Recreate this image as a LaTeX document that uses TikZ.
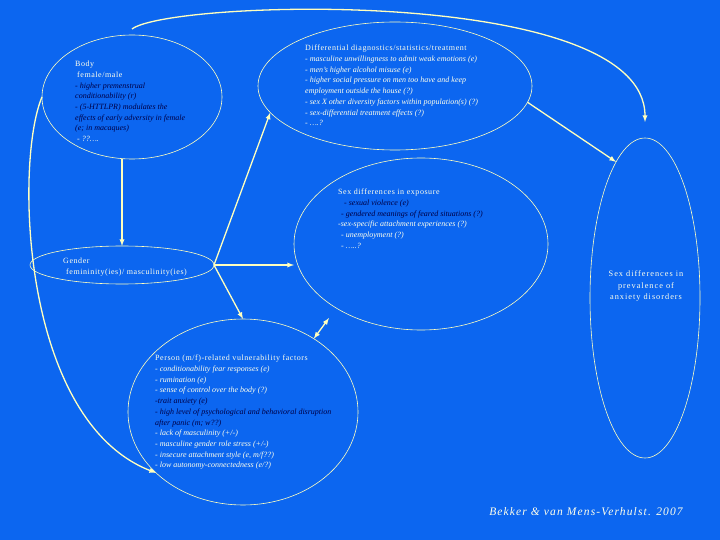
\documentclass[tikz,border=0pt]{standalone}
\usepackage{fontspec}
\setmainfont{Liberation Serif}
\newfontfamily\hdfont[LetterSpace=7]{Liberation Serif}
\newfontfamily\creditfont[LetterSpace=10]{Liberation Serif}
\usetikzlibrary{shapes.geometric}

\definecolor{bgblue}{RGB}{12,102,240}
\definecolor{lineyel}{RGB}{255,255,190}
\definecolor{txtlight}{RGB}{255,255,235}
\definecolor{txtdark}{RGB}{0,0,70}

\newcommand{\dk}[1]{{\color{txtdark}\itshape #1}}
\newcommand{\lt}[1]{{\itshape #1}}
\newcommand{\hd}[1]{{\hdfont #1}}

\begin{document}
\begin{tikzpicture}[x=1pt, y=-1pt, >=latex]
\tikzstyle{bubble} = [draw=lineyel, ellipse, inner sep=0pt, outer sep=0pt, line width=0.6pt]
\tikzstyle{conn} = [->, draw=lineyel, line width=1.3pt]
\tikzstyle{txt} = [anchor=north west, align=left, inner sep=0pt, text=txtlight, font=\fontsize{8}{10.7}\selectfont]
\fill[bgblue] (0,0) rectangle (720,540);
\useasboundingbox (0,0) rectangle (720,540);

% ellipses
\node[bubble, minimum width=180pt, minimum height=124pt] (body) at (132,97) {};
\node[bubble, minimum width=274pt, minimum height=128pt] (diff) at (395,86) {};
\node[bubble, minimum width=254pt, minimum height=172pt] (expo) at (421,244) {};
\node[bubble, minimum width=184pt, minimum height=38pt] (gender) at (122,265) {};
\node[bubble, minimum width=110pt, minimum height=320pt] (right) at (645,298) {};
\node[bubble, minimum width=230pt, minimum height=186pt] (person) at (243,412) {};

% texts
\node[txt] (bodytxt) at (75,61) {\hd{Body}\\
\hspace{2pt}\hd{female/male}\\
\dk{- higher premenstrual}\\
\dk{conditionability (r)}\\
\dk{- (5-HTTLPR) modulates the}\\
\dk{effects of early adversity in female}\\
\dk{(e; in macaques)}\\
\hspace{2pt}\lt{- ??\dots.}};
\node[txt] (difftxt) at (305,45) {\hd{Differential diagnostics/statistics/treatment}\\
\lt{- masculine unwillingness to admit weak emotions (e)}\\
\lt{- men's higher alcohol misuse (e)}\\
\lt{- higher social pressure on men too have and keep}\\
\lt{employment outside the house (?)}\\
\lt{- sex X other diversity factors within population(s) (?)}\\
\lt{- sex-differential treatment effects (?)}\\
\lt{- \dots.?}};
\node[txt] (expotxt) at (338,189) {\hd{Sex differences in exposure}\\
\hspace{6pt}\dk{- sexual violence (e)}\\
\hspace{3pt}\dk{- gendered meanings of feared situations (?)}\\
\lt{-sex-specific attachment experiences (?)}\\
\hspace{3pt}\lt{- unemployment (?)}\\
\hspace{3pt}\lt{- \dots..?}};
\node[txt] (gendertxt) at (63,258) {\hd{Gender}\\
\hspace{3pt}\hd{femininity(ies)/ masculinity(ies)}};
\node[txt, anchor=center, align=center, font=\hdfont\addfontfeatures{LetterSpace=12}\fontsize{8.3}{11.5}\selectfont] (righttxt) at (646,286) {Sex differences in\\ prevalence of\\ anxiety disorders};
\node[txt] (persontxt) at (155,355) {\hd{Person (m/f)-related vulnerability factors}\\
\lt{- conditionability fear responses (e)}\\
\lt{- rumination (e)}\\
\lt{- sense of control over the body (?)}\\
\dk{-trait anxiety (e)}\\
\dk{- high level of psychological and behavioral disruption}\\
\dk{after panic (m; w??)}\\
\lt{- lack of masculinity (+/-)}\\
\lt{- masculine gender role stress (+/-)}\\
\lt{- insecure attachment style (e, m/f??)}\\
\lt{- low autonomy-connectedness (e/?)}};
\node[inner sep=0pt, text=txtlight, font=\creditfont\itshape\fontsize{11.5}{14}\selectfont] (credit) at (586,512) {Bekker \& van Mens-Verhulst. 2007};

% connectors
\coordinate (topstart) at (132,29);
\coordinate (link) at (329,318);
\draw[conn] (body.south -| gender.north) -- (gender.north);
\draw[conn, shorten >=16pt] (topstart) .. controls (170,0) and (645,-15) .. (right.north);
\draw[conn] (body.west) .. controls (15,160) and (20,420) .. (person.215);
\foreach \dest in {expo.west |- gender.east, person.north, diff.192}
\draw[conn] (gender.east) -- (\dest);
\draw[conn] (diff.-7) -- (right.102);
\draw[conn, <->] (person.46) -- (link);
\end{tikzpicture}
\end{document}
